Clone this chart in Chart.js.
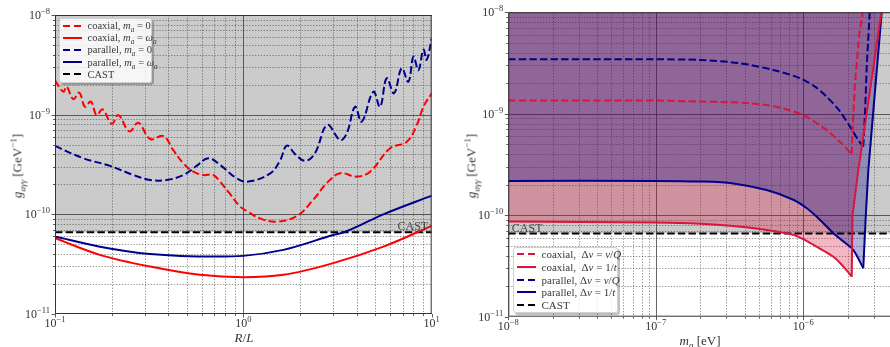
<!DOCTYPE html>
<html>
<head>
<meta charset="utf-8">
<title>Axion-photon coupling reach</title>
<script src="https://cdn.jsdelivr.net/npm/chart.js@4.4.1/dist/chart.umd.min.js"></script>
<style>
  html, body { margin: 0; padding: 0; background: #fff; }
  #wrap { position: relative; width: 890px; height: 347px; overflow: hidden;
          font-family: "Liberation Serif", "DejaVu Serif", serif; color: #222; }
  canvas { position: absolute; top: 0; }
  #leftChart { left: 0; }
  #rightChart { left: 445px; }
  .lbl { position: absolute; white-space: nowrap; font-size: 13px; line-height: 1; color: #333; }
  .ylbl { transform: translate(-50%, -50%) rotate(-90deg); }
  .xlbl { transform: translate(-50%, -50%); }
  .legend { position: absolute; box-sizing: border-box; background: rgba(255,255,255,0.82);
            border: 1px solid #d0d0d0; border-radius: 3px; box-shadow: 2px 2px 0 rgba(0,0,0,0.25); }
  .row { position: absolute; height: 12px; display: flex; align-items: center;
         white-space: nowrap; color: #3a3a3a; }
  .sw { width: 19px; height: 2px; margin-right: 6px; flex: none; }
  sub, sup { font-size: 70%; line-height: 0; }
</style>
</head>
<body>
<div id="wrap">
  <canvas id="leftChart" width="445" height="347"></canvas>
  <canvas id="rightChart" width="445" height="347"></canvas>
  <div class="lbl ylbl" style="left:17px;top:166px"><i>g</i><sub><i>aγγ</i></sub> [GeV<sup>−1</sup>]</div>
  <div class="lbl ylbl" style="left:471px;top:166px"><i>g</i><sub><i>aγγ</i></sub> [GeV<sup>−1</sup>]</div>
  <div class="lbl xlbl" style="left:244px;top:337px"><i>R</i>/<i>L</i></div>
  <div class="lbl xlbl" style="left:700px;top:340px"><i>m</i><sub><i>a</i></sub> [eV]</div>
  <div class="legend" id="leftLegend" style="left:59px;top:18px;width:93px;height:65px;font-size:10.5px"></div>
  <div class="legend" id="rightLegend" style="left:513px;top:247px;width:105px;height:66px;font-size:11px"></div>
</div>
<script>
(function () {
  var CAST_G = 6.6e-11;

  // ---- left panel: reach vs R/L ----
  var RL_RANGE = [0.1, 10];
  var G_RANGE = [1e-11, 1e-8];

  var coaxZeroX = [0.1, 0.1107, 0.1153, 0.125, 0.1346, 0.1443, 0.155, 0.1664, 0.179, 0.2, 0.217, 0.248,
                   0.277, 0.32, 0.376, 0.425, 0.48, 0.543, 0.613, 0.693, 0.752, 0.85, 0.96, 1.06, 1.227,
                   1.5, 1.92, 2.35, 2.77, 3.26, 4.0, 4.71, 6.01, 7.38, 8.34, 9.04, 10];
  var coaxZeroY = [2.2e-9, 1.7e-9, 1.91e-9, 1.43e-9, 1.66e-9, 1.2e-9, 1.35e-9, 9.9e-10, 1.13e-9, 8.1e-10,
                   9.9e-10, 6.8e-10, 8.3e-10, 5.7e-10, 6.1e-10, 4.4e-10, 3.25e-10, 2.68e-10, 2.48e-10,
                   2.48e-10, 2.13e-10, 1.6e-10, 1.2e-10, 1.06e-10, 9.1e-11, 8.45e-11, 9.6e-11, 1.4e-10,
                   2.05e-10, 2.58e-10, 2.39e-10, 2.68e-10, 4.6e-10, 5.36e-10, 7.9e-10, 1.2e-9, 1.64e-9];

  var coaxResX = [0.1, 0.173, 0.32, 0.589, 1.0, 1.63, 3.0, 5.54, 10];
  var coaxResY = [5.75e-11, 3.92e-11, 2.99e-11, 2.47e-11, 2.34e-11, 2.47e-11, 3.24e-11, 4.74e-11, 7.66e-11];

  var parZeroX = [0.1, 0.141, 0.196, 0.261, 0.32, 0.392, 0.48, 0.565, 0.652, 0.752, 0.922, 1.064, 1.39,
                  1.57, 1.7, 1.88, 2.13, 2.4, 2.79, 3.26, 3.54, 3.92, 4.25, 4.9, 5.32, 5.77, 6.31, 6.93,
                  7.52, 8.0, 8.5, 9.04, 9.4, 10];
  var parZeroY = [4.85e-10, 3.66e-10, 3.06e-10, 2.48e-10, 2.21e-10, 2.21e-10, 2.48e-10, 3.06e-10, 3.66e-10,
                  3.13e-10, 2.3e-10, 2.13e-10, 2.58e-10, 3.5e-10, 4.89e-10, 4.04e-10, 3.44e-10, 4.1e-10,
                  7.9e-10, 5.57e-10, 6.5e-10, 1.2e-9, 8.5e-10, 1.7e-9, 1.2e-9, 2.32e-9, 1.64e-9, 2.92e-9,
                  2.14e-9, 3.82e-9, 2.8e-9, 4.5e-9, 3.54e-9, 5.8e-9];

  var parResX = [0.1, 0.173, 0.32, 0.722, 1.0, 1.63, 3.0, 3.45, 5.54, 10];
  var parResY = [5.98e-11, 4.74e-11, 4.0e-11, 3.77e-11, 3.83e-11, 4.4e-11, 6.2e-11, 6.65e-11, 1.0e-10, 1.54e-10];

  // ---- right panel: reach vs axion mass ----
  var MA_RANGE = [1e-8, 3.87e-6];

  var coaxQX = [1e-8, 1e-7, 1.99e-7, 3e-7, 4.34e-7, 5.8e-7, 7.31e-7, 1e-6, 1.2e-6, 1.44e-6, 1.77e-6, 2.13e-6,
                2.15e-6, 2.24e-6, 2.4e-6, 2.53e-6];
  var coaxQY = [1.35e-9, 1.35e-9, 1.32e-9, 1.3e-9, 1.27e-9, 1.21e-9, 1.13e-9, 9.7e-10, 8.3e-10, 6.9e-10, 5.3e-10,
                4.0e-10, 6.4e-10, 2.0e-9, 6.2e-9, 1e-8];

  var coaxTX = [1e-8, 1e-7, 2e-7, 3.35e-7, 5.65e-7, 8.55e-7, 1.05e-6, 1.23e-6, 1.6e-6, 1.87e-6, 2.13e-6, 2.15e-6,
                2.36e-6, 2.69e-6, 3.31e-6, 3.39e-6];
  var coaxTY = [8.65e-11, 8.46e-11, 8.25e-11, 7.85e-11, 7.17e-11, 6.4e-11, 5.6e-11, 4.9e-11, 3.9e-11, 3.12e-11,
                2.48e-11, 9.7e-11, 2.79e-10, 1.01e-9, 8.1e-9, 1e-8];

  var parQX = [1e-8, 1e-7, 1.99e-7, 3.72e-7, 6.26e-7, 9.5e-7, 1.2e-6, 1.44e-6, 1.75e-6, 2.07e-6, 2.36e-6, 2.55e-6,
               2.62e-6, 2.69e-6, 2.82e-6];
  var parQY = [3.44e-9, 3.44e-9, 3.39e-9, 3.15e-9, 2.7e-9, 2.24e-9, 1.85e-9, 1.47e-9, 1.08e-9, 7.5e-10, 5.5e-10,
               4.75e-10, 1.0e-9, 2.9e-9, 1e-8];

  var parTX = [1e-8, 1e-7, 2e-7, 3.35e-7, 5.65e-7, 8.55e-7, 1.05e-6, 1.23e-6, 1.6e-6, 1.87e-6, 2.18e-6, 2.55e-6,
               2.65e-6, 2.76e-6, 3.06e-6, 3.4e-6];
  var parTY = [2.18e-10, 2.18e-10, 2.15e-10, 2.06e-10, 1.77e-10, 1.42e-10, 1.18e-10, 9.7e-11, 6.65e-11, 5.5e-11,
               4.55e-11, 3.0e-11, 9.7e-11, 2.8e-10, 1.65e-9, 1e-8];

  var RED = '#ff0000', CRIMSON = '#dc143c', NAVY = '#00008b';
  var DASH = [7.4, 3.2];
  var FONT = '"Liberation Serif", "DejaVu Serif", serif';

  function pts(xs, ys) {
    return xs.map(function (x, i) { return { x: x, y: ys[i] }; });
  }

  function line(xs, ys, color, dashed, extra) {
    var ds = {
      data: pts(xs, ys),
      borderColor: color,
      borderWidth: 2,
      borderDash: dashed ? DASH : [],
      pointRadius: 0,
      fill: false,
      tension: 0,
    };
    for (var k in extra || {}) ds[k] = extra[k];
    return ds;
  }

  function castLine(range) {
    return line(range, [CAST_G, CAST_G], '#000', true);
  }

  // resonance curves: smooth fall-off down to the sharp minimum, then a straight climb
  function vCurve(xs, ys, color, dashed) {
    var tip = ys.indexOf(Math.min.apply(null, ys));
    return [
      line(xs.slice(0, tip + 1), ys.slice(0, tip + 1), color, dashed, { tension: 0.3 }),
      line(xs.slice(tip), ys.slice(tip), color, dashed),
    ];
  }

  function band(xs, ys, rgba) {
    return line(xs, ys, 'rgba(0,0,0,0)', false, { borderWidth: 0, fill: 'end', backgroundColor: rgba });
  }

  // 1..9 x 10^k values inside [min, max]
  function logTicks(min, max) {
    var out = [];
    for (var k = Math.floor(Math.log10(min)); k <= Math.ceil(Math.log10(max)); k++) {
      for (var m = 1; m <= 9; m++) {
        var v = m * Math.pow(10, k);
        if (v >= min * 0.999 && v <= max * 1.001) out.push({ v: v, major: m === 1, k: k });
      }
    }
    return out;
  }

  function drawPow(ctx, k, x, y, mode) {
    var base = '10', exp = (k < 0 ? '\u2212' : '') + Math.abs(k);
    ctx.font = '12px ' + FONT;
    var wb = ctx.measureText(base).width;
    ctx.font = '8.5px ' + FONT;
    var we = ctx.measureText(exp).width;
    var sx, by;
    if (mode === 'y') { sx = x - wb - we; by = y + 4; }
    else { sx = x - (wb + we) / 2; by = y; }
    ctx.fillStyle = '#333';
    ctx.textAlign = 'left';
    ctx.textBaseline = 'alphabetic';
    ctx.font = '12px ' + FONT;
    ctx.fillText(base, sx, by);
    ctx.font = '8.5px ' + FONT;
    ctx.fillText(exp, sx + wb, by - 5);
  }

  var axesPlugin = {
    id: 'axes',
    beforeDraw: function (chart, args, o) {
      var ctx = chart.ctx, a = chart.chartArea, xs = chart.scales.x, ys = chart.scales.y;
      var w = a.right - a.left, h = a.bottom - a.top;
      ctx.save();
      ctx.fillStyle = '#fff';
      ctx.fillRect(a.left, a.top, w, h);
      // excluded region above the CAST bound
      var yc = ys.getPixelForValue(CAST_G);
      ctx.fillStyle = '#cbcbcb';
      ctx.fillRect(a.left, a.top, w, yc - a.top);

      ctx.beginPath();
      ctx.rect(a.left, a.top, w, h);
      ctx.clip();
      var xt = logTicks(xs.min, xs.max), yt = logTicks(ys.min, ys.max);
      function grid(major) {
        ctx.beginPath();
        xt.forEach(function (t) {
          if (t.major !== major) return;
          var px = Math.round(xs.getPixelForValue(t.v)) + 0.5;
          ctx.moveTo(px, a.top); ctx.lineTo(px, a.bottom);
        });
        yt.forEach(function (t) {
          if (t.major !== major) return;
          var py = Math.round(ys.getPixelForValue(t.v)) + 0.5;
          ctx.moveTo(a.left, py); ctx.lineTo(a.right, py);
        });
        ctx.stroke();
      }
      ctx.lineWidth = 0.8;
      ctx.strokeStyle = 'rgba(60,60,60,0.7)';
      ctx.setLineDash([1.3, 1.6]);
      grid(false);
      ctx.lineWidth = 1;
      ctx.strokeStyle = 'rgba(40,40,40,0.7)';
      ctx.setLineDash([]);
      grid(true);
      ctx.restore();
    },
    afterDraw: function (chart, args, o) {
      var ctx = chart.ctx, a = chart.chartArea, xs = chart.scales.x, ys = chart.scales.y;
      ctx.save();
      ctx.strokeStyle = '#333';
      ctx.lineWidth = 1;
      ctx.beginPath();
      ctx.moveTo(a.right, a.top + 0.5); ctx.lineTo(a.left + 0.5, a.top + 0.5);
      ctx.lineTo(a.left + 0.5, a.bottom - 0.5); ctx.lineTo(a.right, a.bottom - 0.5);
      if (o.rightSpine) { ctx.moveTo(a.right - 0.5, a.top); ctx.lineTo(a.right - 0.5, a.bottom); }
      ctx.stroke();

      // outward ticks
      ctx.lineWidth = 0.8;
      ctx.beginPath();
      logTicks(xs.min, xs.max).forEach(function (t) {
        var px = Math.round(xs.getPixelForValue(t.v)) + 0.5;
        ctx.moveTo(px, a.bottom); ctx.lineTo(px, a.bottom + (t.major ? 3.5 : 2));
      });
      logTicks(ys.min, ys.max).forEach(function (t) {
        var py = Math.round(ys.getPixelForValue(t.v)) + 0.5;
        ctx.moveTo(a.left, py); ctx.lineTo(a.left - (t.major ? 3.5 : 2), py);
      });
      ctx.stroke();

      logTicks(xs.min, xs.max).forEach(function (t) {
        if (t.major) drawPow(ctx, t.k, xs.getPixelForValue(t.v), a.bottom + 13, 'x');
      });
      logTicks(ys.min, ys.max).forEach(function (t) {
        if (t.major) drawPow(ctx, t.k, a.left - 5, ys.getPixelForValue(t.v), 'y');
      });

      // CAST annotation
      var yc = ys.getPixelForValue(CAST_G);
      ctx.font = '12px ' + FONT;
      ctx.fillStyle = '#444';
      ctx.textBaseline = 'alphabetic';
      if (o.castSide === 'right') {
        ctx.textAlign = 'right';
        ctx.fillText('CAST', a.right - 3.5, yc - 2.5);
      } else {
        ctx.textAlign = 'left';
        ctx.fillText('CAST', a.left + 3.5, yc - 1.5);
      }
      ctx.restore();
    },
  };

  function makeChart(id, datasets, xRange, pad, opts) {
    return new Chart(document.getElementById(id), {
      type: 'line',
      data: { datasets: datasets },
      options: {
        responsive: false,
        animation: false,
        devicePixelRatio: 1,
        layout: { padding: pad },
        plugins: {
          legend: { display: false },
          tooltip: { enabled: false },
          filler: { drawTime: 'beforeDatasetsDraw' },
          axes: opts,
        },
        scales: {
          x: { type: 'logarithmic', min: xRange[0], max: xRange[1], display: false },
          y: { type: 'logarithmic', min: G_RANGE[0], max: G_RANGE[1], display: false },
        },
      },
      plugins: [axesPlugin],
    });
  }

  var SMOOTH = { cubicInterpolationMode: 'monotone' };
  var WAVY = { tension: 0.4 };

  makeChart('leftChart', [
    line(coaxZeroX, coaxZeroY, RED, true, WAVY),
    line(coaxResX, coaxResY, RED, false, SMOOTH),
    line(parZeroX, parZeroY, NAVY, true, WAVY),
    line(parResX, parResY, NAVY, false, SMOOTH),
    castLine(RL_RANGE),
  ], RL_RANGE, { left: 55, top: 15, right: 13.3, bottom: 33 }, { castSide: 'right', rightSpine: true });

  // the filler paints the last dataset first, so the navy band goes first in the list
  makeChart('rightChart', [
    band(parTX, parTY, 'rgba(0,0,139,0.3)'),
    band(coaxTX, coaxTY, 'rgba(220,20,60,0.3)'),
  ].concat(
    vCurve(coaxQX, coaxQY, CRIMSON, true),
    vCurve(coaxTX, coaxTY, CRIMSON, false),
    vCurve(parQX, parQY, NAVY, true),
    vCurve(parTX, parTY, NAVY, false),
    [castLine(MA_RANGE)]
  ), MA_RANGE, { left: 63.3, top: 12.3, right: 0, bottom: 30.3 }, { castSide: 'left', rightSpine: false });

  // ---- legends ----
  var LEFT_LABELS = [
    'coaxial, <i>m</i><sub><i>a</i></sub> = 0',
    'coaxial, <i>m</i><sub><i>a</i></sub> = <i>ω</i><sub><i>a</i></sub>',
    'parallel, <i>m</i><sub><i>a</i></sub> = 0',
    'parallel, <i>m</i><sub><i>a</i></sub> = <i>ω</i><sub><i>a</i></sub>',
    'CAST',
  ];
  var RIGHT_LABELS = [
    'coaxial,&nbsp; Δ<i>ν</i> = <i>ν</i>/<i>Q</i>',
    'coaxial,&nbsp; Δ<i>ν</i> = 1/<i>t</i>',
    'parallel, Δ<i>ν</i> = <i>ν</i>/<i>Q</i>',
    'parallel, Δ<i>ν</i> = 1/<i>t</i>',
    'CAST',
  ];
  var LEFT_STYLES = [[RED, true], [RED, false], [NAVY, true], [NAVY, false], ['#000', true]];
  var RIGHT_STYLES = [[CRIMSON, true], [CRIMSON, false], [NAVY, true], [NAVY, false], ['#000', true]];

  function buildLegend(el, labels, styles, first, step) {
    labels.forEach(function (txt, i) {
      var row = document.createElement('div');
      row.className = 'row';
      row.style.left = '2.5px';
      row.style.top = (first + i * step - 6) + 'px';
      var sw = document.createElement('span');
      sw.className = 'sw';
      var c = styles[i][0];
      sw.style.background = styles[i][1]
        ? 'repeating-linear-gradient(90deg,' + c + ' 0 7.4px, transparent 7.4px 10.6px)'
        : c;
      var t = document.createElement('span');
      t.innerHTML = txt;
      row.appendChild(sw);
      row.appendChild(t);
      el.appendChild(row);
    });
  }
  buildLegend(document.getElementById('leftLegend'), LEFT_LABELS, LEFT_STYLES, 6.5, 12.2);
  buildLegend(document.getElementById('rightLegend'), RIGHT_LABELS, RIGHT_STYLES, 6, 12.75);
})();
</script>
</body>
</html>
